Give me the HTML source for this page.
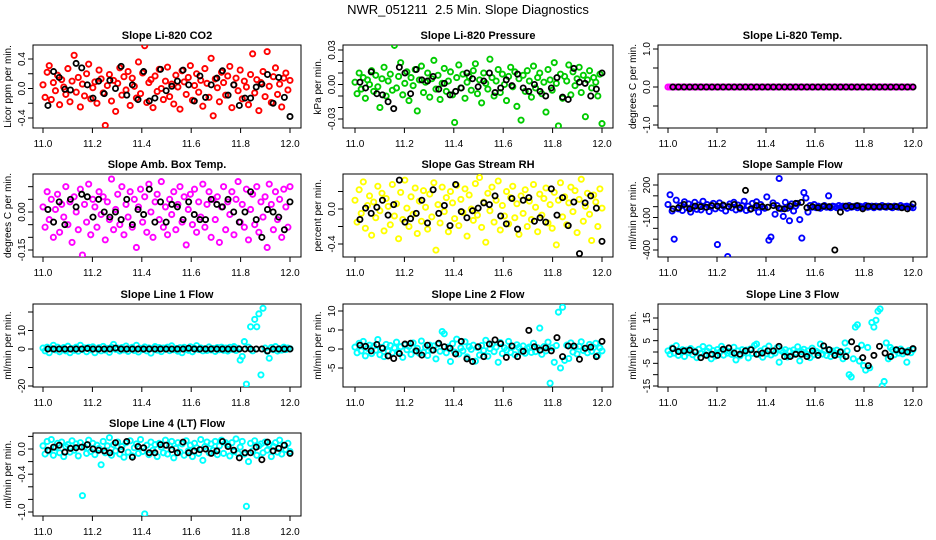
<!DOCTYPE html>
<html><head><meta charset="utf-8">
<style>
html,body{margin:0;padding:0;background:#fff;}
svg{display:block;font-family:"Liberation Sans",Arial,sans-serif;}
</style></head>
<body>
<svg id="chart" width="936" height="540" viewBox="0 0 936 540" xmlns="http://www.w3.org/2000/svg">
<rect width="936" height="540" fill="#fff"/>
<text x="468" y="14" text-anchor="middle" font-size="13" xml:space="preserve">NWR_051211  2.5 Min. Slope Diagnostics</text>
</svg>
<script>
const xTicks = [11.0, 11.2, 11.4, 11.6, 11.8, 12.0];
const xTickLabels = ["11.0", "11.2", "11.4", "11.6", "11.8", "12.0"];
const panelTitles = ["Slope Li-820 CO2","Slope Li-820 Pressure","Slope Li-820 Temp.","Slope Amb. Box Temp.","Slope Gas Stream RH","Slope Sample Flow","Slope Line 1 Flow","Slope Line 2 Flow","Slope Line 3 Flow","Slope Line 4 (LT) Flow"];
const yAxisTitles = ["Licor ppm per min.","kPa per min.","degrees C per min.","degrees C per min.","percent per min.","ml/min per min.","ml/min per min.","ml/min per min.","ml/min per min.","ml/min per min."];

const co2Values = [0.05,-0.12,0.22,0.31,-0.15,0.08,-0.03,0.18,-0.22,0.12,0.02,-0.08,0.27,-0.18,0.10,0.45,-0.05,0.15,-0.25,0.06,-0.10,0.20,0.33,-0.14,0.01,0.09,-0.20,0.25,0.13,-0.06,-0.50,0.04,0.19,-0.17,0.11,-0.31,0.07,0.28,-0.09,0.16,-0.02,0.23,-0.23,0.14,0.03,-0.13,0.36,-0.07,0.21,0.58,-0.19,0.08,0.12,-0.26,0.17,-0.04,0.26,0.00,-0.15,0.10,0.29,-0.11,0.06,-0.21,0.18,0.02,-0.28,0.24,0.09,-0.08,0.15,0.31,-0.16,0.04,0.20,-0.05,0.11,-0.24,0.27,0.07,-0.12,0.41,-0.37,0.13,0.01,-0.18,0.22,0.08,-0.09,0.17,0.30,-0.26,0.05,0.14,-0.03,0.25,-0.14,0.10,0.02,-0.22,0.19,0.47,-0.06,0.12,-0.30,0.08,0.23,-0.11,0.50,0.03,-0.19,0.16,0.28,-0.08,0.06,-0.25,0.14,0.21,-0.02,0.11];
const co2Black = [-0.23,0.23,0.15,-0.01,-0.02,0.34,0.28,0.05,-0.13,0.10,-0.07,0.11,0.00,0.30,-0.09,0.05,-0.15,0.23,-0.17,-0.13,0.26,-0.03,0.03,0.10,0.25,0.05,-0.17,0.17,-0.12,0.05,0.14,0.24,-0.09,0.05,-0.23,-0.13,-0.13,0.02,0.06,0.19,-0.20,0.15,-0.12,-0.38];

const pressureValues = [0.002,-0.008,0.010,-0.004,0.006,-0.012,0.004,0.000,0.012,-0.006,0.008,-0.002,-0.020,0.005,0.015,-0.010,0.003,0.009,-0.005,0.034,-0.003,0.007,0.019,-0.009,0.001,0.011,-0.014,0.006,-0.001,0.013,-0.023,0.004,0.016,-0.007,0.002,0.010,-0.011,0.005,0.021,-0.004,0.008,-0.013,0.001,0.014,-0.006,0.003,0.011,-0.009,-0.033,0.006,0.017,-0.003,0.009,-0.012,0.002,0.007,-0.005,0.012,0.018,-0.008,0.004,-0.016,0.010,0.001,-0.004,0.022,0.006,-0.010,0.003,0.013,-0.007,0.009,0.000,-0.014,0.007,0.015,-0.002,0.011,-0.019,0.005,-0.031,0.008,-0.006,0.012,0.003,-0.011,0.016,-0.003,0.006,0.010,-0.008,0.002,-0.024,0.013,0.004,-0.005,0.019,0.001,-0.036,0.009,-0.012,0.007,0.003,0.017,-0.009,0.011,-0.001,0.005,0.015,-0.007,0.008,-0.028,0.004,0.012,-0.003,0.006,0.002,-0.010,0.009,-0.034];
const pressureBlack = [0.002,-0.003,0.011,-0.008,-0.009,-0.015,-0.021,0.015,0.010,-0.008,0.013,0.004,0.003,0.007,-0.004,0.001,-0.009,-0.006,-0.003,0.010,0.005,-0.002,0.003,0.010,-0.007,-0.003,0.004,-0.001,0.009,-0.003,-0.006,0.000,-0.006,-0.010,-0.003,0.006,-0.011,-0.013,0.014,0.002,0.001,-0.010,-0.004,0.010];

const tempValues = [0,0,0,0,0,0,0,0,0,0,0,0,0,0,0,0,0,0,0,0,0,0,0,0,0,0,0,0,0,0,0,0,0,0,0,0,0,0,0,0,0,0,0,0,0,0,0,0,0,0,0,0,0,0,0,0,0,0,0,0,0,0,0,0,0,0,0,0,0,0,0,0,0,0,0,0,0,0,0,0,0,0,0,0,0,0,0,0,0,0,0,0,0,0,0,0,0,0,0,0,0,0,0,0,0,0,0,0,0,0,0,0,0,0,0,0,0,0,0,0];
const tempBlack = [0,0,0,0,0,0,0,0,0,0,0,0,0,0,0,0,0,0,0,0,0,0,0,0,0,0,0,0,0,0,0,0,0,0,0,0,0,0,0,0,0,0,0,0];

const ambValues = [0.02,-0.06,0.08,-0.03,0.05,-0.10,0.01,0.07,-0.08,0.03,-0.02,0.10,-0.05,0.04,-0.12,0.06,0.00,-0.07,0.09,-0.17,0.03,-0.04,0.11,-0.09,0.05,0.02,-0.06,0.08,-0.01,0.06,-0.11,0.04,-0.03,0.13,-0.07,0.01,0.07,-0.05,0.10,-0.09,0.03,-0.02,0.08,-0.06,0.05,-0.14,0.02,0.09,-0.04,0.06,-0.08,0.11,0.00,-0.10,0.04,0.07,-0.03,0.12,-0.06,0.02,-0.09,0.05,-0.01,0.08,-0.07,0.03,0.10,-0.04,0.06,-0.13,0.01,0.07,-0.05,0.09,-0.08,0.04,-0.02,0.11,-0.06,0.03,0.08,-0.10,0.05,-0.03,0.06,-0.12,0.02,0.10,-0.07,0.04,-0.01,0.08,-0.09,0.05,0.12,-0.04,0.03,-0.06,0.09,-0.11,0.01,0.07,-0.05,0.10,-0.08,0.04,-0.02,0.06,-0.14,0.11,0.03,-0.07,0.08,-0.03,0.05,-0.10,0.09,0.02,-0.06,0.10];
const ambBlack = [0.01,-0.04,0.04,-0.05,0.05,0.02,0.07,0.06,-0.02,0.05,0.00,-0.02,0.00,-0.03,0.05,-0.05,0.01,-0.01,0.09,-0.04,0.04,-0.04,0.03,0.02,-0.03,0.04,-0.01,-0.03,-0.03,0.05,0.03,0.02,0.05,0.00,-0.04,0.00,0.08,-0.03,-0.10,0.01,0.00,-0.02,-0.07,0.04];

const rhValues = [0.10,-0.15,0.22,-0.05,0.31,-0.22,0.04,0.15,-0.30,0.08,-0.10,0.26,-0.02,0.18,-0.25,0.12,0.03,-0.18,0.28,-0.08,0.06,-0.34,0.19,-0.12,0.33,0.01,-0.20,0.14,-0.06,0.24,-0.28,0.09,-0.14,0.21,0.02,-0.23,0.17,-0.09,0.30,-0.47,0.05,-0.16,0.25,-0.03,0.13,-0.26,0.20,0.07,-0.11,0.27,-0.19,0.11,-0.04,0.23,-0.31,0.16,0.00,-0.13,0.29,-0.07,0.36,-0.21,0.08,-0.38,0.18,-0.02,0.25,-0.15,0.10,0.32,-0.24,0.04,-0.08,0.20,-0.17,0.13,0.26,-0.10,0.06,-0.29,0.15,-0.05,0.22,-0.20,0.09,-0.12,0.28,0.02,-0.26,0.17,-0.07,0.12,0.24,-0.16,0.05,-0.22,0.19,-0.41,0.10,0.30,-0.09,0.14,-0.18,0.07,0.25,-0.03,0.21,-0.27,0.11,0.34,-0.14,0.03,0.18,-0.06,-0.36,0.16,0.08,-0.20,0.23,0.01];
const rhBlack = [-0.12,0.01,-0.05,0.02,0.10,-0.07,0.05,0.33,-0.15,-0.11,-0.05,0.10,-0.16,0.22,-0.05,0.04,-0.19,0.28,-0.03,-0.10,-0.02,0.01,0.07,0.05,0.15,-0.08,-0.17,0.12,-0.23,0.10,0.13,-0.14,-0.10,-0.15,0.23,-0.07,0.13,-0.19,0.08,-0.51,0.07,0.15,0.01,-0.37];

const sampleValues = [20,110,-40,-300,60,-20,10,-35,45,-10,25,-50,5,40,-25,15,-30,50,-5,20,-45,10,30,-20,-350,35,-15,5,-40,-460,25,-10,40,-30,15,-20,10,50,-35,5,-25,30,-10,45,-50,20,-5,-15,90,-310,-280,35,-70,10,260,-20,-90,40,-15,-130,25,-40,5,30,-120,-290,130,80,-50,10,-5,20,-10,5,-15,0,10,-5,100,-10,5,0,-10,10,-5,5,0,-15,10,-5,0,5,-10,5,0,-5,10,-5,0,5,-10,5,0,-5,10,0,-5,5,0,-10,5,0,-5,10,-5,0,5,-5,0,-10];
const sampleBlack = [-20,-10,20,-20,5,0,-5,10,5,15,0,20,-10,150,-20,10,0,-5,10,-15,-20,5,30,40,-10,0,-10,5,0,-400,-50,5,0,10,-20,5,0,0,0,0,0,-10,-20,25];

const line1Values = [0.5,-1,1,-2,0.3,2,-0.5,1,-1.5,0,0.8,-1,1.5,-2,0.2,-0.7,1,-1.2,2,-0.3,0.6,-1.5,0.9,-0.4,1.2,-2,0,0.7,-1,1.4,-0.6,0.3,-1.8,1,2.5,-0.2,0.5,-1.1,0.8,-0.5,1.6,-1.3,0.1,0.9,-0.8,2,-1.6,0.4,-0.3,1.1,-1,0.6,-2.2,0.2,1.3,-0.6,0.8,-1.4,0.5,-0.1,1,-0.9,1.7,-0.4,0.3,-1.2,0.7,-2,0.9,0,-0.7,1.2,-1.5,0.4,1.8,-0.3,0.6,-1,0.2,-0.8,1.1,-0.5,0.3,-1.3,0.8,-0.4,1,-0.7,0.5,-1.1,0.9,-0.2,1.3,-0.8,0.4,-6,-4,4,-19,1,12,-1,16,12,19,-14,22,0.5,-1.2,-5,0.8,-0.4,1.3,-1.1,0.2,-0.6,1,-0.3,0.5,0.1];
const line1Black = [0,0,0,0,0,0,0,0.3,0,0,0,0,0.5,0,0,0,0,0,0,0,0,0,0,0,0,0.4,0,0,0,0,0,0,0,0,0,0,0,0,0,-1,0,0,0,0];

const line2Values = [0.5,-1,1.5,-0.5,2,-1.8,0.2,1,-1.2,0.8,-0.3,2.5,-1.5,0.4,-2,1.2,-0.6,0.9,-1,0.3,1.8,-0.8,0.6,-2.2,1.1,-0.2,0.7,-1.4,1.6,-0.5,0.2,-1.1,2.1,-0.9,0.5,-1.7,1,-0.3,0.8,-2.6,1.3,-0.6,4.6,4,-1,0.5,-3.3,1.4,-0.8,2.6,-1.3,0.3,-0.5,1.9,-2.1,0.6,-0.1,1,-3.2,0.4,-1.6,0.9,-0.4,2.3,-1.9,0.1,1.2,-0.7,0.5,-3.5,1.7,-1.2,0.3,-0.3,2,-0.9,0.6,-1.5,1.1,0.4,-0.6,0.8,-1.1,0.2,0.5,-0.9,1.5,-0.7,0.3,5.5,-1.4,0.6,-0.5,1.8,-9,0.3,-3.5,0.9,9.7,-5,11,-3,1,-2.5,1.6,-0.8,0.5,-1.3,0.7,1.9,-0.4,0.2,-1,1.2,-0.6,0.4,1.5,-1.7,0.3,-0.5];
const line2Black = [1,0.7,-0.5,1.2,0.2,-1.8,-2.5,-1.2,1.3,1.5,-0.5,-1.6,1,-0.3,1.5,0.6,0.2,-1.3,2,-2.6,-3.3,0.6,-2,1.3,2.4,1.4,-2.2,0.8,-2,-0.6,4.9,0.6,-0.3,0.3,-0.5,3,-2,0.8,0.8,-2.7,0.2,0.5,-2,2];

const line3Values = [0.5,-1,1.8,-0.5,2.8,-1.5,0.2,1,-2,0.8,-0.3,1.5,-1.2,0.4,-2.5,1.2,-0.6,2.4,-1,0.3,1.8,-3,0.6,-1.8,1.1,-0.2,2.5,-1.4,0.9,-0.5,0.2,-1.1,2.1,-3.5,0.5,-1.7,1,-0.3,0.8,-2.6,1.3,-0.6,2.9,3.5,-1,0.5,-2.3,1.4,-0.8,2.6,-1.3,0.3,-0.5,1.9,-4.5,0.6,-0.1,1,-2.2,0.4,-1.6,0.9,-0.4,2.3,-3.9,0.1,1.2,-0.7,0.5,-2.5,1.7,-1.2,0.3,-0.3,3.5,-0.9,0.6,-1.5,1.1,-2,0.4,-0.6,0.8,-1.1,0.2,-3,4,0.5,-10,-11,-3,11,12,-4,3,-6,-8,2,-7,13,11,14,18,19,-15,-13,4,-3,2,1,-1.2,0.6,-0.5,1.3,-0.8,0.2,-4.5,0.7,-0.3,1];
const line3Black = [1.5,0.2,0.5,0.8,0,-2.5,-1.5,-1,-1.5,1.2,1.8,-0.5,-1,0.5,1,-1,-0.5,0.5,0.5,2.5,-2,-2,-1,-1,-2,0.5,-1.5,2.7,1,-1.5,0,-2,4.5,1.5,-2.5,-6,-1.5,2.5,-0.5,-2,1,0.5,0,1.5];

const line4Values = [0.05,-0.08,0.12,-0.03,0.15,-0.10,0.02,0.09,-0.06,0.11,-0.12,0.04,0.07,-0.05,0.13,-0.02,0.08,-0.11,0.10,-0.74,0.03,-0.07,0.14,-0.04,0.09,-0.09,0.06,0.01,-0.25,0.12,-0.06,0.05,0.18,-0.10,0.07,-0.03,0.11,-0.08,0.04,-0.13,0.10,-0.05,0.13,-0.11,0.02,0.08,-0.07,0.15,-0.04,-1.03,0.06,-0.09,0.11,-0.02,0.07,-0.12,0.09,0.03,-0.06,0.14,-0.08,0.05,0.12,-0.14,0.01,0.10,-0.05,0.08,-0.10,0.13,-0.03,0.06,-0.12,0.09,0.02,-0.07,0.15,-0.18,0.04,0.11,-0.06,0.08,-0.02,0.12,-0.09,0.05,0.14,-0.07,0.10,0.07,-0.11,0.10,-0.04,0.16,-0.07,0.03,0.12,-0.08,-0.91,-0.20,0.09,-0.03,0.13,-0.10,0.05,0.08,-0.06,0.11,-0.02,0.07,-0.12,0.04,0.10,-0.05,0.14,-0.08,0.06,-0.01,0.09,-0.04];
const line4Black = [-0.02,0.03,0.06,-0.05,0.01,0.02,0.03,0.07,0.00,-0.02,-0.03,-0.06,0.10,-0.01,0.12,-0.13,0.04,0.02,-0.06,-0.06,0.07,0.06,-0.01,-0.06,0.11,-0.06,-0.03,-0.01,0.00,-0.07,-0.03,0.12,0.04,-0.02,-0.14,-0.06,-0.06,0.03,-0.17,0.11,-0.03,0.01,0.06,-0.07];

const co2Ticks = [-0.4,-0.2,0,0.2,0.4];           const co2Labels = ["-0.4","","0.0","","0.4"];
const pressureTicks = [-0.03,-0.02,-0.01,0,0.01,0.02,0.03]; const pressureLabels = ["-0.03","","","0.00","","","0.03"];
const tempTicks = [-1,-0.5,0,0.5,1];             const tempLabels = ["-1.0","","0.0","","1.0"];
const ambTicks = [-0.15,-0.10,-0.05,0,0.05,0.10]; const ambLabels = ["-0.15","","","0.00","",""];
const rhTicks = [-0.4,-0.2,0,0.2];               const rhLabels = ["-0.4","","0.0",""];
const sampleTicks = [-400,-300,-200,-100,0,100,200]; const sampleLabels = ["-400","","","-100","","","200"];
const line1Ticks = [-20,-10,0,10,20];             const line1Labels = ["-20","","0","10",""];
const line2Ticks = [-5,0,5,10];                   const line2Labels = ["-5","0","5","10"];
const line3Ticks = [-15,-10,-5,0,5,10,15];        const line3Labels = ["-15","","-5","","5","","15"];
const line4Ticks = [-1.0,-0.8,-0.6,-0.4,-0.2,0.0,0.2]; const line4Labels = ["-1.0","","","-0.4","","0.0",""];

const seriesColors = ["#ff0000","#00cc00","#ff00ff","#ff00ff","#ffff00","#0000ff","#00ffff","#00ffff","#00ffff","#00ffff"];

const NS = "http://www.w3.org/2000/svg";
const svg = document.getElementById("chart");
function mk(tag, attrs, parent){ const e=document.createElementNS(NS,tag); for(const k in attrs) e.setAttribute(k,attrs[k]); (parent||svg).appendChild(e); return e; }

const cols = [[33,301,43,290],[343,613,355,602],[658,927,668,913]];
const rows = [[45,128],[174,257],[304,387],[433,516]];
const calib = [[0.4,59,-0.4,118],[0.03,50,-0.03,119],[1,49,-1,125],[0,212,-0.15,250],[0,209,-0.4,244],[200,185,-400,250],[0,349,-20,386],[10,311,-5,368],[15,318,-15,386],[0,449,-1.0,512]];
const colorSeries = [co2Values,pressureValues,tempValues,ambValues,rhValues,sampleValues,line1Values,line2Values,line3Values,line4Values];
const blackSeries = [co2Black,pressureBlack,tempBlack,ambBlack,rhBlack,sampleBlack,line1Black,line2Black,line3Black,line4Black];
const yTickSets = [co2Ticks,pressureTicks,tempTicks,ambTicks,rhTicks,sampleTicks,line1Ticks,line2Ticks,line3Ticks,line4Ticks];
const yLabelSets = [co2Labels,pressureLabels,tempLabels,ambLabels,rhLabels,sampleLabels,line1Labels,line2Labels,line3Labels,line4Labels];
const slugs = ["co2","pressure","li820-temp","amb-box-temp","gas-stream-rh","sample-flow","line1-flow","line2-flow","line3-flow","line4-flow"];

for(let p=0;p<10;p++){
  const c=cols[p%3], r=rows[Math.floor(p/3)], cal=calib[p];
  const xs = v => c[2] + (v-11)*(c[3]-c[2]);
  const ys = v => cal[1] + (v-cal[0])*(cal[3]-cal[1])/(cal[2]-cal[0]);
  const g = mk("g",{});
  
  
  const cp = mk("clipPath",{id:"clip"+p},g);
  mk("rect",{x:c[0],y:r[0],width:c[1]-c[0],height:r[1]-r[0]},cp);
  const t = mk("text",{x:(c[0]+c[1])/2,y:r[0]-6,"text-anchor":"middle","font-size":"11","font-weight":"bold"},g);
  t.textContent = panelTitles[p];
  
  
  const fr = mk("rect",{x:c[0],y:r[0],width:c[1]-c[0],height:r[1]-r[0],fill:"none",stroke:"#000","stroke-width":"1"},g);
  
  
  xTicks.forEach((v,i)=>{
    const x=xs(v);
    const tk = mk("line",{x1:x,x2:x,y1:r[1],y2:r[1]+5,stroke:"#000"},g);
    
    
    const tl = mk("text",{x:x,y:r[1]+19,"text-anchor":"middle","font-size":"10"},g);
    tl.textContent = xTickLabels[i];
    
    
  });
  yTickSets[p].forEach((v,i)=>{
    const y=ys(v);
    if(y<r[0]-1||y>r[1]+1) return;
    const tk = mk("line",{x1:c[0]-5,x2:c[0],y1:y,y2:y,stroke:"#000"},g);
    
    
    const lab=yLabelSets[p][i];
    if(lab){
      const tl = mk("text",{x:0,y:0,"text-anchor":"middle","font-size":"10",transform:`translate(${c[0]-8},${y}) rotate(-90)`},g);
      tl.textContent = lab;
      
      
    }
  });
  const yt = mk("text",{x:0,y:0,"text-anchor":"middle","font-size":"10",transform:`translate(${c[0]-22},${(r[0]+r[1])/2}) rotate(-90)`},g);
  yt.textContent = yAxisTitles[p];
  
  
  const pg = mk("g",{"clip-path":`url(#clip${p})`},g);
  const cs=colorSeries[p], n=cs.length;
  cs.forEach((v,i)=>{
    const pt = mk("circle",{cx:xs(11+i/(n-1)),cy:ys(v),r:2.6,fill:"none",stroke:seriesColors[p],"stroke-width":"1.9"},pg);
    
    
  });
  const bs=blackSeries[p], m=bs.length;
  bs.forEach((v,i)=>{
    const pt = mk("circle",{cx:xs(11.02+i*0.98/(m-1)),cy:ys(v),r:2.6,fill:"none",stroke:"#000","stroke-width":"1.8"},pg);
    
    
  });
}
</script>
</body></html>
